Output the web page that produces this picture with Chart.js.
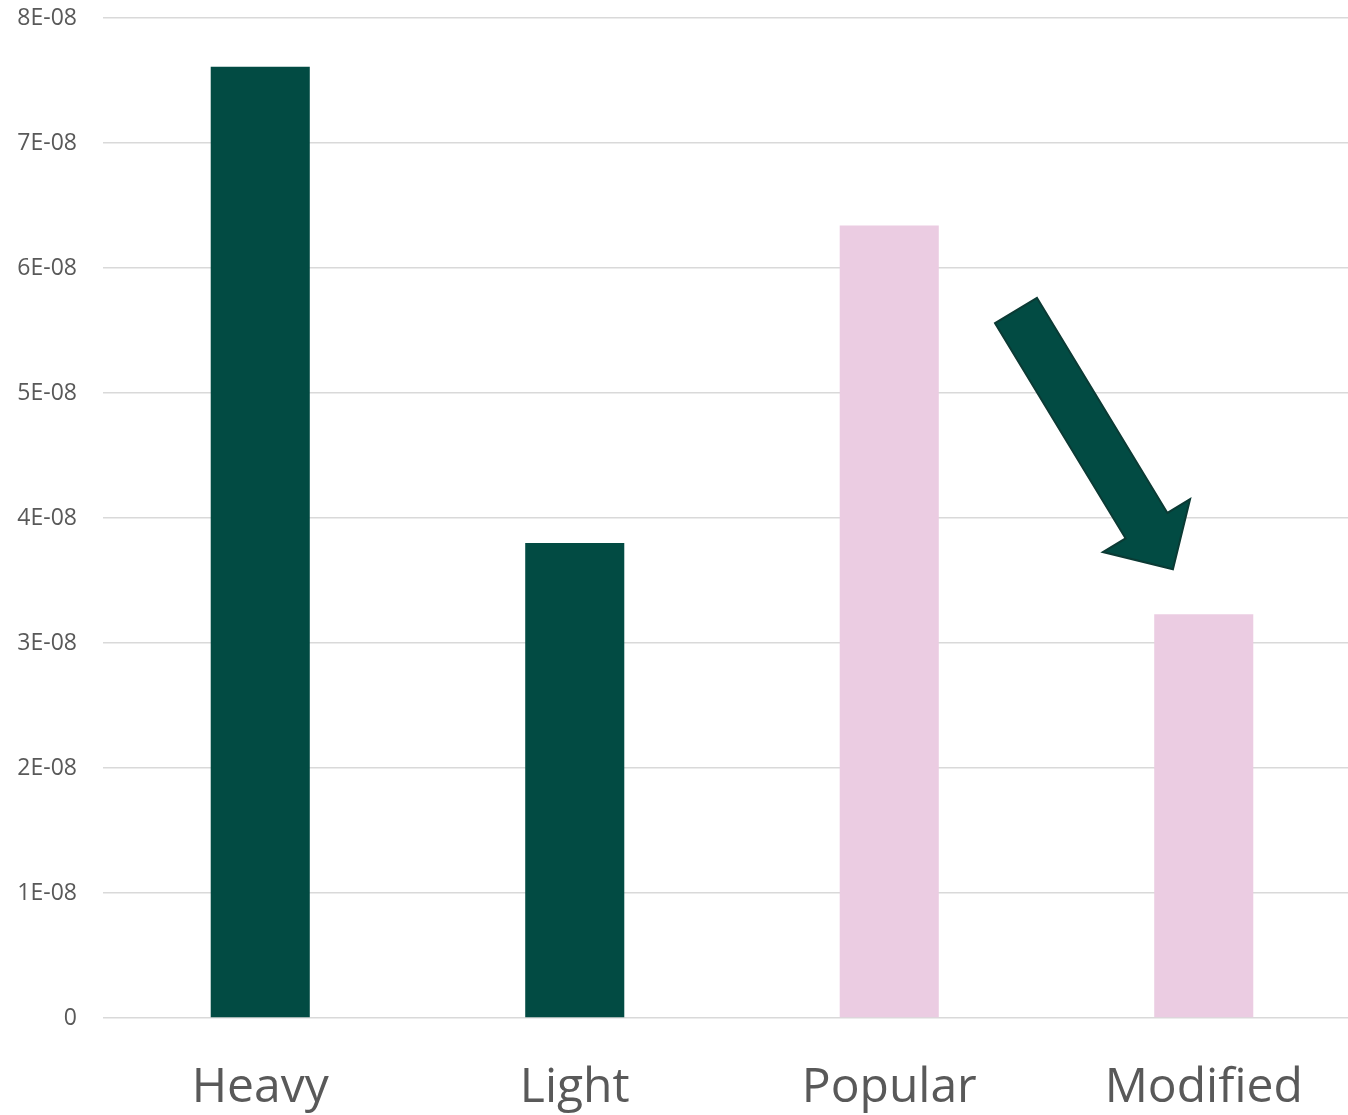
<!DOCTYPE html>
<html>
<head>
<meta charset="utf-8">
<title>Heavy / Light / Popular / Modified</title>
<script src="https://cdn.jsdelivr.net/npm/chart.js@4/dist/chart.umd.min.js"></script>
<style>
  html, body { margin: 0; padding: 0; background: #ffffff; overflow: hidden; }
  #wrap { width: 1361px; height: 1115px; }
</style>
</head>
<body>
<div id="wrap"><canvas id="chart" width="1361" height="1115"></canvas></div>
<script>
// Categories and values
const categories = ['Heavy', 'Light', 'Popular', 'Modified'];
const values = [7.61e-8, 3.80e-8, 6.34e-8, 3.23e-8];
const barColors = ['#024B43', '#024B43', '#EBCCE2', '#EBCCE2'];

// Value axis
const yMin = 0;
const yMax = 8e-8;
const yStep = 1e-8;

// Arrow annotation, in chart coordinates (category index, value)
const arrowFrom = { x: 2.403, y: 5.66e-8 };
const arrowTo   = { x: 2.902, y: 3.59e-8 };

function formatSci(v) {
  if (v === 0) return '0';
  const exp = Math.floor(Math.log10(Math.abs(v)) + 1e-9);
  const mant = Math.round(v / Math.pow(10, exp));
  const sign = exp < 0 ? '-' : '+';
  const e = String(Math.abs(exp)).padStart(2, '0');
  return mant + 'E' + sign + e;
}

// Draws a block arrow between two points given in data space
const blockArrow = {
  id: 'blockArrow',
  afterDatasetsDraw(chart) {
    const { ctx, scales } = chart;
    const x0 = scales.x.getPixelForValue(arrowFrom.x);
    const y0 = scales.y.getPixelForValue(arrowFrom.y);
    const x1 = scales.x.getPixelForValue(arrowTo.x);
    const y1 = scales.y.getPixelForValue(arrowTo.y);
    const dx = x1 - x0, dy = y1 - y0;
    const len = Math.hypot(dx, dy);
    const ux = dx / len, uy = dy / len;
    const nx = -uy, ny = ux;
    const shaftHalf = 24.5, headHalf = 51, headLen = 51;
    const bx = x1 - ux * headLen, by = y1 - uy * headLen;
    ctx.save();
    ctx.beginPath();
    ctx.moveTo(x0 + nx * shaftHalf, y0 + ny * shaftHalf);
    ctx.lineTo(bx + nx * shaftHalf, by + ny * shaftHalf);
    ctx.lineTo(bx + nx * headHalf, by + ny * headHalf);
    ctx.lineTo(x1, y1);
    ctx.lineTo(bx - nx * headHalf, by - ny * headHalf);
    ctx.lineTo(bx - nx * shaftHalf, by - ny * shaftHalf);
    ctx.lineTo(x0 - nx * shaftHalf, y0 - ny * shaftHalf);
    ctx.closePath();
    ctx.fillStyle = '#024B43';
    ctx.fill();
    ctx.lineWidth = 2;
    ctx.lineJoin = 'miter';
    ctx.strokeStyle = '#0B3A34';
    ctx.stroke();
    ctx.restore();
  }
};

new Chart(document.getElementById('chart'), {
  type: 'bar',
  data: {
    labels: categories,
    datasets: [{
      data: values,
      backgroundColor: barColors,
      borderWidth: 0,
      categoryPercentage: 1,
      barPercentage: 0.315
    }]
  },
  options: {
    responsive: false,
    animation: false,
    events: [],
    layout: { padding: { top: 18, right: 0, bottom: 0, left: 0 } },
    plugins: {
      legend: { display: false },
      tooltip: { enabled: false },
      title: { display: false }
    },
    scales: {
      x: {
        grid: { display: false, drawTicks: false },
        border: { display: false },
        ticks: {
          color: '#595959',
          padding: 42,
          font: { family: '"Open Sans", "Noto Sans", sans-serif', size: 48 }
        },
        afterFit(scale) { scale.height = 97; }
      },
      y: {
        min: yMin,
        max: yMax,
        grid: { color: '#D9D9D9', lineWidth: 1.5, drawTicks: false },
        border: { display: false },
        ticks: {
          stepSize: yStep,
          color: '#595959',
          padding: 26,
          font: { family: '"Open Sans", "Noto Sans", sans-serif', size: 23 },
          callback: (v) => formatSci(v)
        },
        afterFit(scale) {
          scale.width = 103;
          scale.paddingTop = 0;
          scale.paddingBottom = 0;
        }
      }
    }
  },
  plugins: [blockArrow]
});
</script>
</body>
</html>
